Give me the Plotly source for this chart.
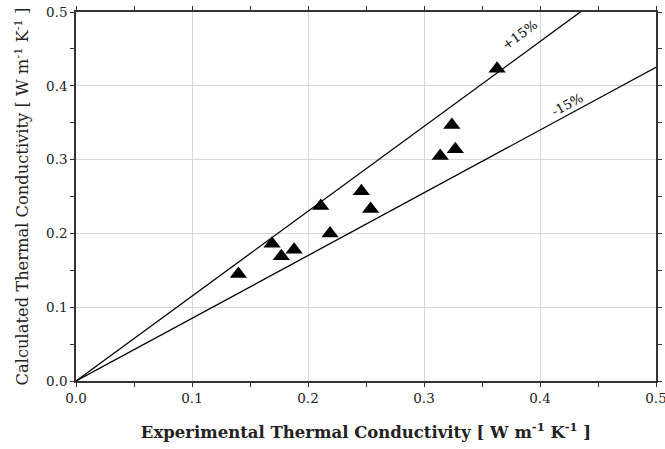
import plotly.graph_objects as go

# experimental vs calculated thermal conductivity [W m-1 K-1]
exp_k = [0.140, 0.169, 0.177, 0.188, 0.211, 0.219, 0.246, 0.254, 0.314, 0.324, 0.327, 0.363]
calc_k = [0.145, 0.186, 0.169, 0.178, 0.237, 0.200, 0.257, 0.233, 0.305, 0.347, 0.314, 0.423]

# deviation lines
line_x = [0.0, 0.5]
upper_factor = 1.15
lower_factor = 0.85

serif = "DejaVu Serif"

fig = go.Figure()

fig.add_trace(go.Scatter(
    x=line_x, y=[v * upper_factor for v in line_x],
    mode="lines", line=dict(color="black", width=1.3),
    showlegend=False, hoverinfo="skip"
))
fig.add_trace(go.Scatter(
    x=line_x, y=[v * lower_factor for v in line_x],
    mode="lines", line=dict(color="black", width=1.3),
    showlegend=False, hoverinfo="skip"
))
fig.add_trace(go.Scatter(
    x=exp_k, y=calc_k, mode="markers",
    marker=dict(symbol="triangle-up", size=15, color="black"),
    showlegend=False
))

fig.add_annotation(x=0.383, y=0.469, text="+15%", showarrow=False,
                   textangle=-36, font=dict(family=serif, size=13, color="black"))
fig.add_annotation(x=0.424, y=0.374, text="-15%", showarrow=False,
                   textangle=-28, font=dict(family=serif, size=13, color="black"))

axis_common = dict(
    range=[0, 0.5], dtick=0.1, tickformat=".1f",
    showgrid=True, gridcolor="#d8d8d8", gridwidth=1,
    showline=True, linecolor="#333333", linewidth=1.5, mirror="ticks",
    ticks="outside", ticklen=4, tickcolor="#333333",
    minor=dict(dtick=0.05, ticks="outside", ticklen=4, tickcolor="#333333", showgrid=False),
    zeroline=False, automargin=False, ticklabeloverflow="allow",
    tickfont=dict(family=serif, size=13.5, color="#222222"),
)

fig.update_xaxes(
    **axis_common,
    title=dict(text="<b>Experimental Thermal Conductivity [ W m<sup>-1</sup> K<sup>-1</sup> ]</b>",
               font=dict(family=serif, size=16.5, color="#222222"), standoff=21),
)
fig.update_yaxes(
    **axis_common,
    title=dict(text="Calculated Thermal Conductivity [ W m<sup>-1</sup> K<sup>-1</sup> ]",
               font=dict(family=serif, size=16.3, color="#222222"), standoff=13),
)

fig.update_layout(
    width=665, height=449,
    margin=dict(l=76, r=9, t=12, b=68),
    plot_bgcolor="white", paper_bgcolor="white",
)

fig.write_html("out.html", config={"displayModeBar": False},
               post_script="document.body.style.margin='0';")
